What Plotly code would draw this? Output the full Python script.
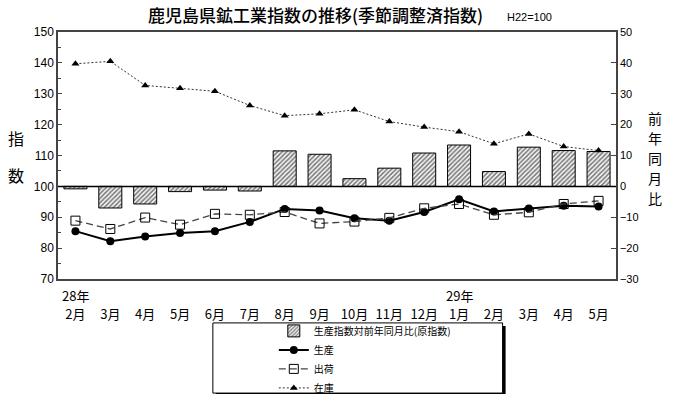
import plotly.graph_objects as go

months = ["2月", "3月", "4月", "5月", "6月", "7月", "8月", "9月", "10月", "11月", "12月", "1月", "2月", "3月", "4月", "5月"]
years = {0: "28年", 11: "29年"}
yoy = [-0.8, -7.0, -5.7, -1.7, -1.2, -1.5, 11.5, 10.4, 2.5, 5.9, 10.8, 13.4, 4.8, 12.7, 11.6, 11.3]
production = [85.5, 82.2, 83.8, 84.9, 85.5, 88.5, 92.7, 92.2, 89.7, 88.9, 91.7, 95.8, 91.9, 92.8, 93.7, 93.5]
shipments = [88.9, 86.2, 89.9, 87.6, 91.1, 90.8, 91.7, 88.0, 88.6, 89.8, 92.9, 94.3, 90.8, 91.6, 94.3, 95.3]
inventory = [139.7, 140.5, 132.7, 131.8, 130.8, 126.2, 122.9, 123.5, 124.8, 121.0, 119.2, 117.7, 113.8, 117.0, 112.9, 111.6]

x = list(range(len(months)))

JP = "Noto Sans CJK JP"
NUM = "Liberation Sans, Arial"

fig = go.Figure()
fig.add_trace(go.Bar(
    x=x, y=yoy, name="生産指数対前年同月比(原指数)", yaxis="y",
    width=0.66,
    marker=dict(color="white", line=dict(color="black", width=1),
                pattern=dict(shape="/", fgcolor="black", bgcolor="white", size=3.2, solidity=0.55)),
))
fig.add_trace(go.Scatter(
    x=x, y=production, name="生産", yaxis="y2", mode="lines+markers",
    line=dict(color="black", width=2),
    marker=dict(symbol="circle", size=8, color="black"),
))
fig.add_trace(go.Scatter(
    x=x, y=shipments, name="出荷", yaxis="y2", mode="lines+markers",
    line=dict(color="#444", width=1.3, dash="7px,4px"),
    marker=dict(symbol="square-open", size=9, color="black", line=dict(width=1)),
))
fig.add_trace(go.Scatter(
    x=x, y=inventory, name="在庫", yaxis="y2", mode="lines+markers",
    line=dict(color="#333", width=1, dash="2px,2px"),
    marker=dict(symbol="triangle-up", size=7, color="black"),
))

W, H = 700, 394
L, R, T, B = 58, 83.5, 32.3, 115.3
pw = W - L - R
ph = H - T - B

def px2paper(px, py):
    return (px - L) / pw, (H - B - py) / ph

shapes = []
# zero line at 100
shapes.append(dict(type="line", xref="paper", yref="y", x0=0, x1=1, y0=0, y1=0,
                   line=dict(color="black", width=1.5)))
# legend box with shadow
x0, y0 = px2paper(216, 325.5)
x1, y1 = px2paper(506, 396)
shapes.append(dict(type="rect", xref="paper", yref="paper", x0=x0, y0=y0, x1=x1, y1=y1,
                   fillcolor="black", line=dict(width=0), layer="above"))
x0, y0 = px2paper(213, 322.5)
x1, y1 = px2paper(503, 392.5)
shapes.append(dict(type="rect", xref="paper", yref="paper", x0=x0, y0=y0, x1=x1, y1=y1,
                   fillcolor="white", line=dict(color="black", width=1), layer="above"))

annotations = []
tx, ty = px2paper(316, 15)
annotations.append(dict(text="鹿児島県鉱工業指数の推移(季節調整済指数)", xref="paper", yref="paper",
                        x=tx, y=ty, showarrow=False, xanchor="center", yanchor="middle",
                        font=dict(family=JP, size=17, color="black", weight=500)))
tx, ty = px2paper(505, 17)
annotations.append(dict(text="H22=100", xref="paper", yref="paper", x=tx, y=ty, showarrow=False,
                        xanchor="left", yanchor="middle", font=dict(family=NUM, size=11, color="black")))
for ch, py in [("指", 138), ("数", 175)]:
    tx, ty = px2paper(16, py)
    annotations.append(dict(text=ch, xref="paper", yref="paper", x=tx, y=ty, showarrow=False,
                            xanchor="center", yanchor="middle", font=dict(family=JP, size=16, color="black")))
for i, ch in enumerate("前年同月比"):
    tx, ty = px2paper(656, 118 + i * 20)
    annotations.append(dict(text=ch, xref="paper", yref="paper", x=tx, y=ty, showarrow=False,
                            xanchor="center", yanchor="middle", font=dict(family=JP, size=14, color="black")))
_, yy = px2paper(0, 295)
for idx, label in years.items():
    annotations.append(dict(text=label, xref="x", yref="paper", x=idx, y=yy, showarrow=False,
                            xanchor="center", yanchor="middle", font=dict(family=JP, size=13, color="black")))

lx, ly = px2paper(274, 316)

fig.update_layout(
    width=W, height=H, margin=dict(l=L, r=R, t=T, b=B, autoexpand=False),
    paper_bgcolor="white", plot_bgcolor="white",
    showlegend=True,
    legend=dict(x=lx, y=ly, xanchor="left", yanchor="top", bgcolor="rgba(0,0,0,0)",
                font=dict(family=JP, size=10, color="black"), tracegroupgap=0,
                itemwidth=30, traceorder="normal"),
    xaxis=dict(tickmode="array", tickvals=x, ticktext=months, range=[-0.5, len(x) - 0.5],
               showline=True, linecolor="#444", linewidth=1.5, mirror=True, ticks="",
               ticklabelstandoff=23,
               tickfont=dict(family=JP, size=13, color="black"), showgrid=False, zeroline=False),
    yaxis=dict(range=[-30, 50], dtick=10, side="right", showgrid=False, zeroline=False,
               ticks="inside", ticklen=5, tickcolor="#444", showline=True, linecolor="#444", linewidth=1.5,
               tickfont=dict(family=NUM, size=11, color="black"), ticklabelstandoff=0),
    yaxis2=dict(range=[70, 150], dtick=10, side="left", overlaying="y", showgrid=False, zeroline=False,
                ticks="inside", ticklen=4, tickcolor="#444", showline=True, linecolor="#444", linewidth=1.5,
                minor=dict(ticks="inside", dtick=5, ticklen=3, tickcolor="#444"),
                tickfont=dict(family=NUM, size=12, color="black")),
    bargap=0.34,
    shapes=shapes, annotations=annotations,
)

fig.write_html("out.html", config={"displayModeBar": False},
               post_script="document.body.style.margin='0';document.body.style.overflow='hidden';")
